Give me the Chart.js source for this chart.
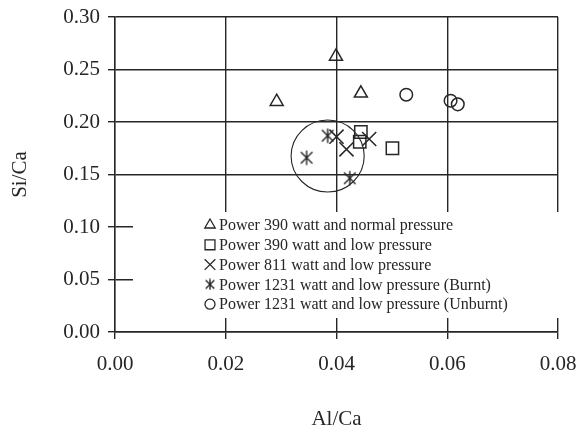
<!DOCTYPE html>
<html>
<head>
<meta charset="utf-8">
<script src="https://cdn.jsdelivr.net/npm/chart.js@4.4.1/dist/chart.umd.min.js"></script>
<style>
  html, body { margin: 0; padding: 0; background: #fff; }
  #wrap { width: 577px; height: 432px; }
</style>
</head>
<body>
<div id="wrap"><canvas id="grafico"></canvas></div>
<script>
// Datos (Al/Ca en x, Si/Ca en y)
const tri390NormalX = [0.0292, 0.0399, 0.0444];
const tri390NormalY = [0.2193, 0.2625, 0.2273];

const sq390LowX = [0.0444, 0.0442, 0.0501];
const sq390LowY = [0.1905, 0.1812, 0.1750];

const cross811LowX = [0.0400, 0.0418, 0.0459];
const cross811LowY = [0.1860, 0.1740, 0.1838];

const star1231BurntX = [0.0384, 0.0346, 0.0424];
const star1231BurntY = [0.1870, 0.1660, 0.1464];

const circ1231UnburntX = [0.0526, 0.0606, 0.0619];
const circ1231UnburntY = [0.2260, 0.2203, 0.2168];

const seriesLabels = [
  'Power 390 watt and normal pressure',
  'Power 390 watt and low pressure',
  'Power 811 watt and low pressure',
  'Power 1231 watt and low pressure (Burnt)',
  'Power 1231 watt and low pressure (Unburnt)',
];

// Círculo que agrupa los puntos quemados (centro y radios en unidades de datos)
const grupoCentro = [0.0384, 0.1676];
const grupoRadio = [0.0066, 0.0343];

const INK = '#262626';
const FUENTE = '"Liberation Serif", "Times New Roman", serif';

// Convierte dos arreglos en puntos {x, y}
function puntos(xs, ys) {
  return xs.map((x, i) => ({ x: x, y: ys[i] }));
}

// Asterisco de seis brazos dibujado en un canvas pequeño
function crearAsterisco(size) {
  const c = document.createElement('canvas');
  c.width = size;
  c.height = size;
  const g = c.getContext('2d');
  const m = size / 2;
  const d = size * 0.36;
  g.strokeStyle = INK;
  g.lineWidth = 1.4;
  g.beginPath();
  g.moveTo(m - d, m - d); g.lineTo(m + d, m + d);
  g.moveTo(m + d, m - d); g.lineTo(m - d, m + d);
  g.moveTo(m, m - d * 1.25); g.lineTo(m, m + d * 1.25);
  g.stroke();
  return c;
}

const asterisco = crearAsterisco(16);
const asteriscoChico = crearAsterisco(12);

// Dibuja el círculo del grupo
const circuloGrupo = {
  id: 'circuloGrupo',
  afterDatasetsDraw(chart) {
    const { ctx, scales } = chart;
    const cx = scales.x.getPixelForValue(grupoCentro[0]);
    const cy = scales.y.getPixelForValue(grupoCentro[1]);
    const rx = Math.abs(scales.x.getPixelForValue(grupoCentro[0] + grupoRadio[0]) - cx);
    const ry = Math.abs(scales.y.getPixelForValue(grupoCentro[1] + grupoRadio[1]) - cy);
    ctx.save();
    ctx.strokeStyle = INK;
    ctx.lineWidth = 1.1;
    ctx.beginPath();
    ctx.ellipse(cx, cy, rx, ry, 0, 0, Math.PI * 2);
    ctx.stroke();
    ctx.restore();
  }
};

// Leyenda dentro del área del gráfico con fondo blanco
const leyendaInterna = {
  id: 'leyendaInterna',
  afterDatasetsDraw(chart) {
    const { ctx, chartArea } = chart;
    const left = chartArea.left + 18;
    const top = chartArea.top + 195;
    const right = chartArea.right + 2;
    const bottom = chartArea.bottom - 14;
    ctx.save();
    ctx.fillStyle = '#fff';
    ctx.fillRect(left, top, right - left, bottom - top);

    const x0 = chartArea.left + 95;
    const y0 = chartArea.top + 208;
    const paso = 19.8;
    ctx.font = '16px ' + FUENTE;
    ctx.textBaseline = 'middle';
    ctx.textAlign = 'left';
    chart.data.datasets.forEach((ds, i) => {
      const y = y0 + i * paso;
      ctx.strokeStyle = INK;
      ctx.fillStyle = 'rgba(0,0,0,0)';
      ctx.lineWidth = 1.3;
      const estilo = ds.pointStyle === asterisco ? asteriscoChico : ds.pointStyle;
      Chart.helpers.drawPoint(ctx, {
        pointStyle: estilo,
        rotation: 0,
        radius: ds.legendRadius,
        borderWidth: 1.3,
      }, x0, y);
      ctx.fillStyle = INK;
      ctx.fillText(ds.label, x0 + 9, y + 1);
    });
    ctx.restore();
  }
};

function datasetBase(label, data, estilo, radio, radioLeyenda) {
  return {
    label: label,
    data: data,
    pointStyle: estilo,
    pointRadius: radio,
    pointBorderWidth: 1.5,
    pointBorderColor: INK,
    pointBackgroundColor: 'rgba(0,0,0,0)',
    showLine: false,
    legendRadius: radioLeyenda,
  };
}

// Ajusta el tamaño de cada eje sin relleno extra
function fijarEje(s, ancho, alto) {
  if (ancho) s.width = ancho;
  if (alto) s.height = alto;
  s.paddingLeft = 0;
  s.paddingRight = 0;
  s.paddingTop = 0;
  s.paddingBottom = 0;
}

function inicializarGrafico() {
  const ctx = document.getElementById('grafico').getContext('2d');
  new Chart(ctx, {
    type: 'scatter',
    data: {
      datasets: [
        datasetBase(seriesLabels[0], puntos(tri390NormalX, tri390NormalY), 'triangle', 7.5, 6),
        datasetBase(seriesLabels[1], puntos(sq390LowX, sq390LowY), 'rect', 8.7, 7),
        datasetBase(seriesLabels[2], puntos(cross811LowX, cross811LowY), 'crossRot', 10, 7.5),
        datasetBase(seriesLabels[3], puntos(star1231BurntX, star1231BurntY), asterisco, 7, 6),
        datasetBase(seriesLabels[4], puntos(circ1231UnburntX, circ1231UnburntY), 'circle', 6.3, 5),
      ],
    },
    options: {
      responsive: true,
      maintainAspectRatio: false,
      animation: false,
      events: [],
      layout: { padding: { left: 0, right: 19, top: 17, bottom: 0 } },
      plugins: {
        legend: { display: false },
        tooltip: { enabled: false },
      },
      scales: {
        x: {
          type: 'linear',
          min: 0,
          max: 0.08,
          afterFit: s => fijarEje(s, null, 100),
          ticks: {
            stepSize: 0.02,
            color: INK,
            padding: 13,
            font: { family: FUENTE, size: 21 },
            callback: v => v.toFixed(2),
          },
          grid: { color: INK, lineWidth: 1.4, tickLength: 7, drawTicks: true },
          border: { color: INK, width: 1.4 },
          title: {
            display: true,
            text: 'Al/Ca',
            color: INK,
            font: { family: FUENTE, size: 21 },
            padding: { top: 0, bottom: 0 },
          },
        },
        y: {
          type: 'linear',
          min: 0,
          max: 0.30,
          afterFit: s => fijarEje(s, 115, null),
          ticks: {
            stepSize: 0.05,
            color: INK,
            padding: 8,
            font: { family: FUENTE, size: 21 },
            callback: v => v.toFixed(2),
          },
          grid: { color: INK, lineWidth: 1.4, tickLength: 7, drawTicks: true },
          border: { color: INK, width: 1.4 },
          title: {
            display: true,
            text: 'Si/Ca',
            color: INK,
            font: { family: FUENTE, size: 21 },
            padding: { top: 8, bottom: 0 },
          },
        },
      },
    },
    plugins: [circuloGrupo, leyendaInterna],
  });
}

window.onload = () => {
  inicializarGrafico();
};
</script>
</body>
</html>
